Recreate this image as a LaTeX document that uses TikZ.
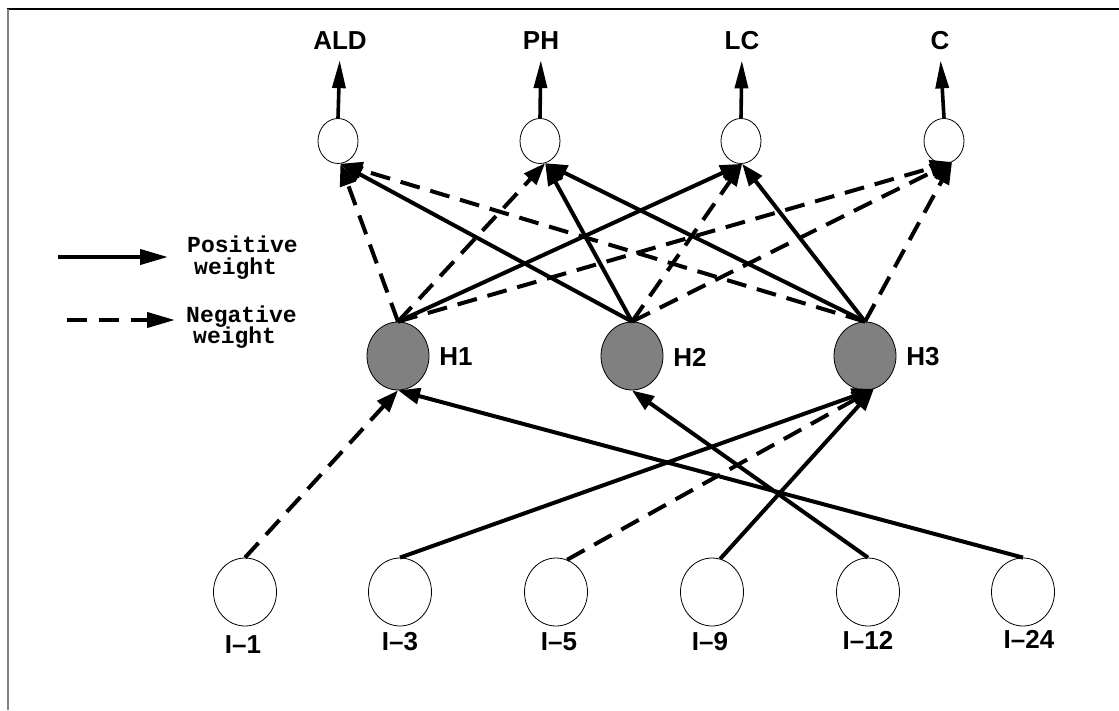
\documentclass[tikz,border=0pt]{standalone}
\usepackage{fontspec}
\usetikzlibrary{shapes.geometric,arrows.meta}
\newfontfamily\lblfont{Liberation Sans}
\newfontfamily\legfont{Liberation Mono}
\definecolor{hidgray}{RGB}{128,128,128}
\definecolor{framegray}{RGB}{130,130,130}
\begin{document}
\begin{tikzpicture}[x=1pt,y=-1pt,
  outnode/.style={ellipse, draw, line width=0.8pt, minimum width=40pt, minimum height=45pt, inner sep=0pt},
  hidnode/.style={ellipse, draw, fill=hidgray, line width=0.8pt, minimum width=62pt, minimum height=68pt, inner sep=0pt},
  innode/.style={ellipse, draw, line width=0.8pt, minimum width=63pt, minimum height=68pt, inner sep=0pt},
  lbl/.style={font=\lblfont\bfseries\fontsize{26}{26}\selectfont, inner sep=0pt},
  legtxt/.style={font=\legfont\bfseries\fontsize{23}{23}\selectfont, inner sep=0pt, anchor=base west},
  poswt/.style={line width=4pt, -{Triangle[length=22pt,width=16pt]}},
  negwt/.style={poswt, dash pattern=on 20pt off 11pt},
  uparr/.style={line width=3.6pt, -{Triangle[length=28pt,width=13pt]}, shorten >=10pt},
  legpos/.style={line width=4pt, -{Triangle[length=28pt,width=15pt]}},
  legneg/.style={legpos, dash pattern=on 20pt off 12pt}
]
\useasboundingbox (0,0) rectangle (1119,710);
% frame
\draw[line width=2pt] (7,9) -- (1119,9);
\draw[framegray, line width=2pt] (8,9) -- (8,710);

% output layer
\node[outnode] (o1) at (338,141) {};
\node[outnode] (o2) at (540,141) {};
\node[outnode] (o3) at (741,141) {};
\node[outnode] (o4) at (944,141) {};
\node[lbl] (ald) at (340,41) {ALD};
\node[lbl] (ph) at (541,41) {PH};
\node[lbl] (lc) at (742,41) {LC};
\node[lbl] (c) at (940,41) {C};
\draw[uparr] (o1.north) -- (ald.south);
\draw[uparr] (o2.north) -- (ph.south);
\draw[uparr] (o3.north) -- (lc.south);
\draw[uparr] (o4.north) -- (c.south);

% hidden layer
\node[hidnode] (h1) at (398,356) {};
\node[hidnode] (h2) at (632,356) {};
\node[hidnode] (h3) at (865,356) {};
\node[lbl] (lh1) at (456,357) {H1};
\node[lbl] (lh2) at (690,357) {H2};
\node[lbl] (lh3) at (923,357) {H3};

% input layer
\node[innode] (i1) at (245,592) {};
\node[innode] (i3) at (400,592) {};
\node[innode] (i5) at (556,592) {};
\node[innode] (i9) at (712,592) {};
\node[innode] (i12) at (868,592) {};
\node[innode] (i24) at (1023,592) {};
\node[lbl] (li1) at (243,645) {I–1};
\node[lbl] (li3) at (400,642) {I–3};
\node[lbl] (li5) at (559,642) {I–5};
\node[lbl] (li9) at (710,642) {I–9};
\node[lbl] (li12) at (868,640) {I–12};
\node[lbl] (li24) at (1029,639) {I–24};

% hidden -> output
\draw[negwt] (h1.north) -- (o1.-84);
\draw[negwt] (h1.north) -- (o2.-77);
\draw[poswt] (h1.north) -- (o3.-87);
\draw[negwt] (h1.north) -- (o4.-69);
\draw[poswt] (h2.north) -- (o1.-84);
\draw[poswt] (h2.north) -- (o2.-77);
\draw[negwt] (h2.north) -- (o3.-87);
\draw[negwt] (h2.north) -- (o4.-69);
\draw[negwt] (h3.north) -- (o1.-84);
\draw[poswt] (h3.north) -- (o2.-77);
\draw[poswt] (h3.north) -- (o3.-87);
\draw[negwt] (h3.north) -- (o4.-69);

% input -> hidden
\draw[negwt] (i1.north) -- (h1.south);
\draw[poswt] (i3.north) -- (h3.-75);
\draw[negwt] (i5.71) -- (h3.-75);
\draw[poswt] (i9.76) -- (h3.-75);
\draw[poswt] (i12.north) -- (h2.south);
\draw[poswt] (i24.north) -- (h1.south);

% legend
\coordinate (lps) at (58,257);
\coordinate (lpe) at (168,257);
\coordinate (lns) at (67,320);
\coordinate (lne) at (175,320);
\draw[legpos] (lps) -- (lpe);
\draw[legneg] (lns) -- (lne);
\node[legtxt] (tp1) at (187,252) {Positive};
\node[legtxt] (tp2) at (194,274) {weight};
\node[legtxt] (tn1) at (186,322) {Negative};
\node[legtxt] (tn2) at (193,343) {weight};
\end{tikzpicture}
\end{document}
